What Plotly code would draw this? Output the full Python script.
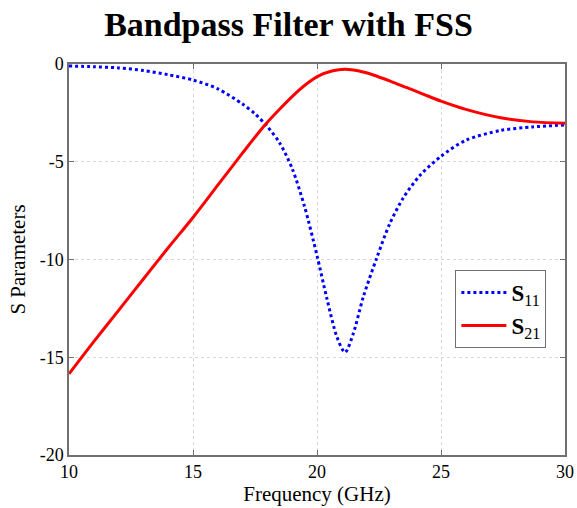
import plotly.graph_objects as go

# S11 (reflection) readings
s11_freq = [10, 11, 12, 13, 14, 15, 16, 17, 17.5, 18, 18.5, 19, 19.5, 20,
            20.4, 20.8, 21.13, 21.46, 21.87, 22.4, 22.94, 23.48, 24.15, 25, 26,
            27.4, 28.7, 30]
s11_db = [-0.1, -0.14, -0.2, -0.33, -0.55, -0.82, -1.27, -2.05, -2.55, -3.2, -4.05,
          -5.35, -7.3, -9.8, -12.0, -13.95, -14.75, -13.8, -11.9, -9.95, -8.15, -6.85,
          -5.7, -4.72, -3.9, -3.4, -3.22, -3.12]

# S21 (transmission) readings
s21_freq = [10, 11, 12, 13, 14, 15, 16, 17, 17.9, 18.5, 19.05, 19.6, 20.05, 20.6,
            21.13, 21.7, 22.27, 23.0, 23.6, 24.3, 25, 26, 27.4, 28.7, 30]
s21_db = [-15.85, -14.2, -12.6, -11.0, -9.4, -7.85, -6.2, -4.55, -3.12, -2.3, -1.6,
          -1.0, -0.62, -0.36, -0.27, -0.36, -0.56, -0.9, -1.2, -1.55, -1.9, -2.32,
          -2.75, -2.96, -3.03]

x_ticks = [10, 15, 20, 25, 30]
y_ticks = [-20, -15, -10, -5, 0]
y_tick_text = ["-20", "-15", "-10", "-5", "0"]

SERIF = "Liberation Serif, Times New Roman, serif"

fig = go.Figure()
fig.add_trace(go.Scatter(
    x=s11_freq, y=s11_db, mode="lines", name="<b>S</b><sub>11</sub>",
    line=dict(color="#0000ff", width=3, dash="dot", shape="spline", smoothing=0.8),
))
fig.add_trace(go.Scatter(
    x=s21_freq, y=s21_db, mode="lines", name="<b>S</b><sub>21</sub>",
    line=dict(color="#ff0000", width=3, shape="spline", smoothing=0.8),
))

axis_common = dict(
    showline=True, linecolor="#707070", linewidth=1.5, mirror="allticks",
    ticks="inside", ticklen=5, tickcolor="#707070",
    showgrid=True, gridcolor="#d8d8d8", griddash="dot", gridwidth=1,
    zeroline=False, automargin=False,
    tickfont=dict(family=SERIF, size=18, color="black"),
)

fig.update_layout(
    width=577, height=508,
    margin=dict(l=69, r=12, t=64, b=53),
    paper_bgcolor="white", plot_bgcolor="white",
    title=dict(text="<b>Bandpass Filter with FSS</b>", x=0.5, xanchor="center",
               y=0.952, yanchor="middle",
               font=dict(family=SERIF, size=34, color="black")),
    xaxis=dict(range=[10, 30], tickvals=x_ticks,
               title=dict(text="Frequency (GHz)", standoff=2,
                          font=dict(family=SERIF, size=21, color="black")),
               **axis_common),
    yaxis=dict(range=[-20, 0], tickvals=y_ticks, ticktext=y_tick_text,
               title=dict(text="S Parameters", standoff=8,
                          font=dict(family=SERIF, size=21, color="black")),
               **axis_common),
    legend=dict(x=0.779, y=0.473, xanchor="left", yanchor="top",
                bordercolor="#707070", borderwidth=1, bgcolor="white",
                font=dict(family=SERIF, size=23, color="black"),
                itemwidth=45, tracegroupgap=2),
    showlegend=True,
)

fig.write_html("out.html")
